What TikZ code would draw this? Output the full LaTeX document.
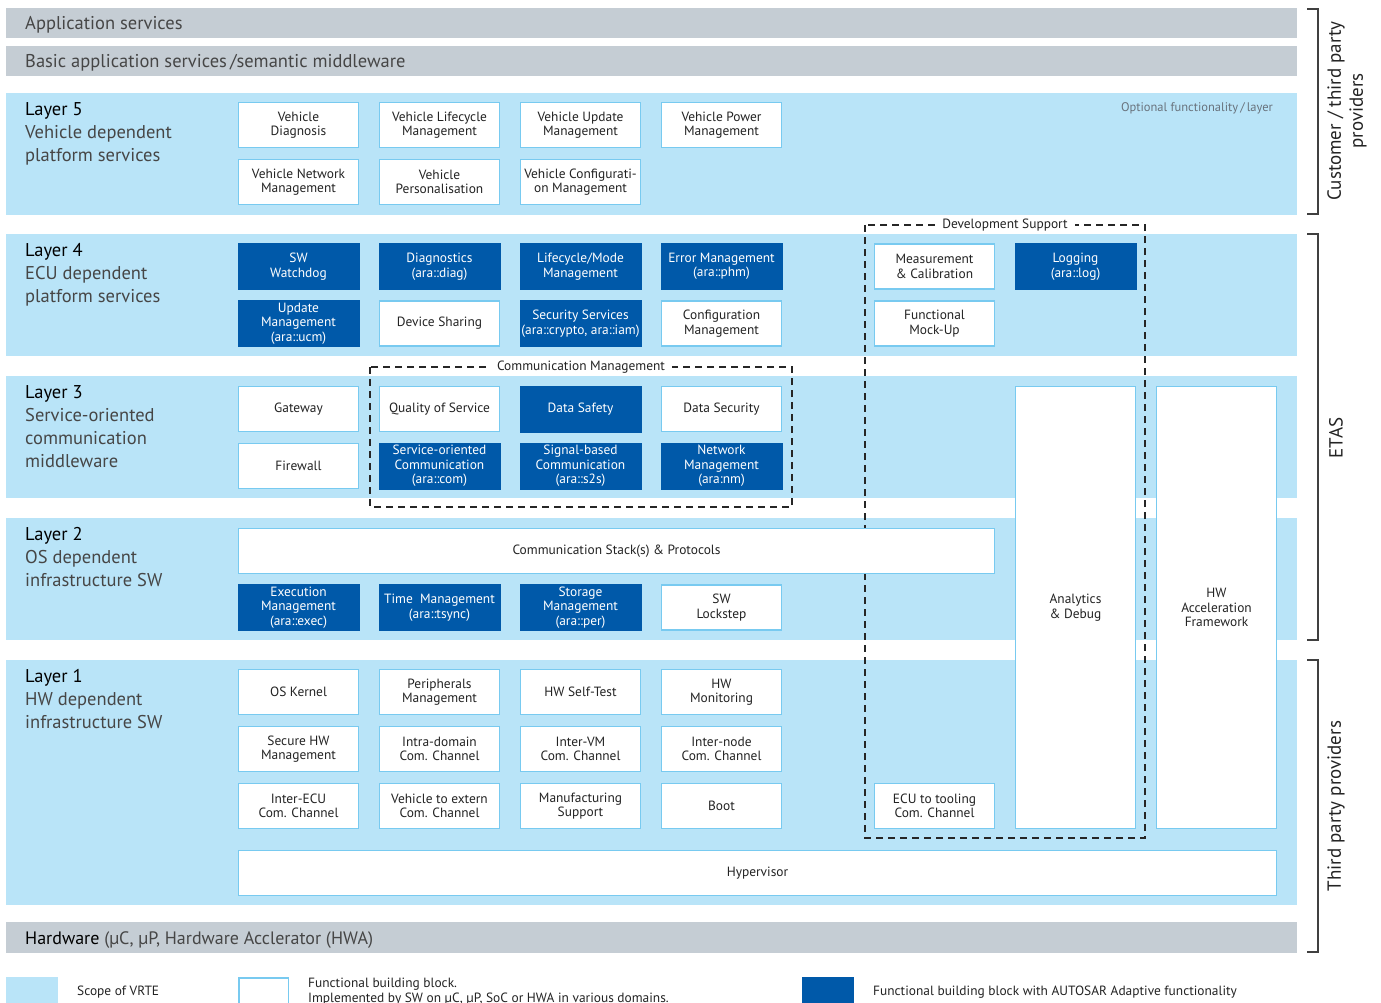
\documentclass[tikz,border=0pt]{standalone}
\usepackage{fontspec}
\setmainfont{PT Sans}
\definecolor{lblue}{RGB}{185,228,248}
\definecolor{bord}{RGB}{120,202,240}
\definecolor{dblue}{RGB}{0,89,169}
\definecolor{gbar}{RGB}{197,205,212}
\definecolor{txt}{RGB}{35,35,35}
\definecolor{ltxt}{RGB}{70,70,70}
\definecolor{opt}{RGB}{105,115,125}
\begin{document}
\begin{tikzpicture}[x=1pt,y=-1pt,
  boxfont/.style={font=\fontsize{13.4}{14.5}\selectfont},
  wbox/.style={boxfont, draw=bord, line width=1.5pt, fill=white, text=txt,
    minimum width=120pt, minimum height=45pt, inner sep=0pt, align=center},
  dbox/.style={boxfont, fill=dblue, text=white,
    minimum width=122pt, minimum height=47pt, inner sep=0pt, align=center},
  band/.style={fill=lblue},
  gbarstyle/.style={fill=gbar},
  bartxt/.style={anchor=west, inner sep=0pt, text=ltxt, font=\fontsize{18.5}{20}\selectfont},
  layertxt/.style={anchor=north west, inner sep=0pt, align=left, text=ltxt,
    font=\fontsize{18.5}{23}\selectfont},
  dashbox/.style={draw=black!85, line width=1.4pt, dash pattern=on 7pt off 5pt},
  dashlbl/.style={fill=white, inner xsep=7pt, inner ysep=2pt, text=txt, font=\fontsize{13.4}{14}\selectfont},
  brack/.style={draw=black!75, line width=1.3pt},
  sidetxt/.style={rotate=90, align=center, text=txt, font=\fontsize{19}{22}\selectfont},
  legtxt/.style={text=txt, font=\fontsize{13.4}{14.5}\selectfont, inner sep=0pt, align=left}
]
\useasboundingbox (0,0) rectangle (1381,1003);

% gray bars
\fill[gbarstyle] (6,8) rectangle (1297,38);
\fill[gbarstyle] (6,46) rectangle (1297,76);
\fill[gbarstyle] (6,922) rectangle (1297,953);
\node[bartxt] (app) at (25,25) {Application services};
\node[bartxt] (basic) at (25,63) {Basic application services\,/semantic middleware};
\node[bartxt, font=\fontsize{18}{20}\selectfont] (hw) at (25,940) {\textcolor{black}{Hardware} (µC, µP, Hardware Acclerator (HWA)};

% bands
\fill[band] (6,93) rectangle (1297,215);
\fill[band] (6,234) rectangle (1297,356);
\fill[band] (6,376) rectangle (1297,498);
\fill[band] (6,518) rectangle (1297,640);
\fill[band] (6,660) rectangle (1297,905);

% layer labels
\node[layertxt] (t5) at (25,102) {\textcolor{black}{Layer 5}\\Vehicle dependent\\platform services};
\node[layertxt] (t4) at (25,243) {\textcolor{black}{Layer 4}\\ECU dependent\\platform services};
\node[layertxt] (t3) at (25,385) {\textcolor{black}{Layer 3}\\Service-oriented\\communication\\middleware};
\node[layertxt] (t2) at (25,527) {\textcolor{black}{Layer 2}\\OS dependent\\infrastructure SW};
\node[layertxt] (t1) at (25,669) {\textcolor{black}{Layer 1}\\HW dependent\\infrastructure SW};

\node[text=opt, font=\fontsize{12.5}{14}\selectfont, inner sep=0pt] (optl) at (1197,108) {Optional functionality\,/\,layer};

% dashed groups
\draw[dashbox] (370,367) rectangle (792,507);
\node[dashlbl] (cmlbl) at (581,367) {Communication Management};
\draw[dashbox] (865,225) rectangle (1145,838);
\node[dashlbl] (dslbl) at (1005,225) {Development Support};

% Layer 5
\node[wbox] (l5a) at (298.5,125) {Vehicle\\Diagnosis};
\node[wbox] (l5b) at (439.5,125) {Vehicle Lifecycle\\Management};
\node[wbox] (l5c) at (580.5,125) {Vehicle Update\\Management};
\node[wbox] (l5d) at (721.5,125) {Vehicle Power\\Management};
\node[wbox] (l5e) at (298.5,182) {Vehicle Network\\Management};
\node[wbox] (l5f) at (439.5,182) {Vehicle\\Personalisation};
\node[wbox] (l5g) at (580.5,182) {Vehicle Configurati-\\on Management};

% Layer 4
\node[dbox] (l4a) at (298.5,266.5) {SW\\Watchdog};
\node[dbox] (l4b) at (439.5,266.5) {Diagnostics\\(ara::diag)};
\node[dbox] (l4c) at (580.5,266.5) {Lifecycle/Mode\\Management};
\node[dbox] (l4d) at (721.5,266.5) {Error Management\\(ara::phm)};
\node[dbox] (l4e) at (298.5,323.5) {Update\\Management\\(ara::ucm)};
\node[wbox] (l4f) at (439.5,323.5) {Device Sharing};
\node[dbox] (l4g) at (580.5,323.5) {Security Services\\(ara::crypto, ara::iam)};
\node[wbox] (l4h) at (721.5,323.5) {Configuration\\Management};
\node[wbox] (mc) at (934.5,266.5) {Measurement\\\& Calibration};
\node[dbox] (log) at (1075.5,266.5) {Logging\\(ara::log)};
\node[wbox] (fmu) at (934.5,323.5) {Functional\\Mock-Up};

% Layer 3
\node[wbox] (l3a) at (298.5,409) {Gateway};
\node[wbox] (l3b) at (439.5,409) {Quality of Service};
\node[dbox] (l3c) at (580.5,409) {Data Safety};
\node[wbox] (l3d) at (721.5,409) {Data Security};
\node[wbox] (l3e) at (298.5,466) {Firewall};
\node[dbox] (l3f) at (439.5,466) {Service-oriented\\Communication\\(ara::com)};
\node[dbox] (l3g) at (580.5,466) {Signal-based\\Communication\\(ara::s2s)};
\node[dbox] (l3h) at (721.5,466) {Network\\Management\\(ara:nm)};

% Layer 2
\node[wbox, minimum width=756pt] (cs) at (616.5,551) {Communication Stack(s) \& Protocols};
\node[dbox] (l2a) at (298.5,607.5) {Execution\\Management\\(ara::exec)};
\node[dbox] (l2b) at (439.5,607.5) {Time~~Management\\(ara::tsync)};
\node[dbox] (l2c) at (580.5,607.5) {Storage\\Management\\(ara::per)};
\node[wbox] (l2d) at (721.5,607.5) {SW\\Lockstep};

% Layer 1
\node[wbox] (l1a) at (298.5,692) {OS Kernel};
\node[wbox] (l1b) at (439.5,692) {Peripherals\\Management};
\node[wbox] (l1c) at (580.5,692) {HW Self-Test};
\node[wbox] (l1d) at (721.5,692) {HW\\Monitoring};
\node[wbox] (l1e) at (298.5,749) {Secure HW\\Management};
\node[wbox] (l1f) at (439.5,749) {Intra-domain\\Com. Channel};
\node[wbox] (l1g) at (580.5,749) {Inter-VM\\Com. Channel};
\node[wbox] (l1h) at (721.5,749) {Inter-node\\Com. Channel};
\node[wbox] (l1i) at (298.5,806) {Inter-ECU\\Com. Channel};
\node[wbox] (l1j) at (439.5,806) {Vehicle to extern\\Com. Channel};
\node[wbox] (l1k) at (580.5,806) {Manufacturing\\Support};
\node[wbox] (l1l) at (721.5,806) {Boot};
\node[wbox] (ecu) at (934.5,806) {ECU to tooling\\Com. Channel};
\node[wbox, minimum width=1038pt] (hyp) at (757.5,873) {Hypervisor};

% tall boxes
\node[wbox, minimum height=442pt] (ana) at (1075.5,607.5) {Analytics\\\& Debug};
\node[wbox, minimum height=442pt] (hwa) at (1216.5,607.5) {HW\\Acceleration\\Framework};

% brackets
\draw[brack] (1307,9) -- (1318,9) -- (1318,214) -- (1307,214);
\draw[brack] (1307,234) -- (1318,234) -- (1318,640) -- (1307,640);
\draw[brack] (1307,660) -- (1318,660) -- (1318,952) -- (1307,952);
\node[sidetxt] (cust) at (1347,111) {Customer / third party\\providers};
\node[sidetxt] (etas) at (1336,438) {ETAS};
\node[sidetxt] (third) at (1336,806) {Third party providers};

% legend
\fill[band] (6,977) rectangle (58,1010);
\node[legtxt, anchor=west] (lg1) at (77,992) {Scope of VRTE};
\filldraw[draw=bord, fill=white, line width=1.5pt] (238.75,977.75) rectangle (288.25,1012);
\node[legtxt, anchor=north west] (lg2) at (308,978) {Functional building block.\\Implemented by SW on µC, µP, SoC or HWA in various domains.};
\fill[dblue] (802,977) rectangle (854,1010);
\node[legtxt, anchor=west] (lg3) at (873,992) {Functional building block with AUTOSAR Adaptive functionality};
\end{tikzpicture}
\end{document}
